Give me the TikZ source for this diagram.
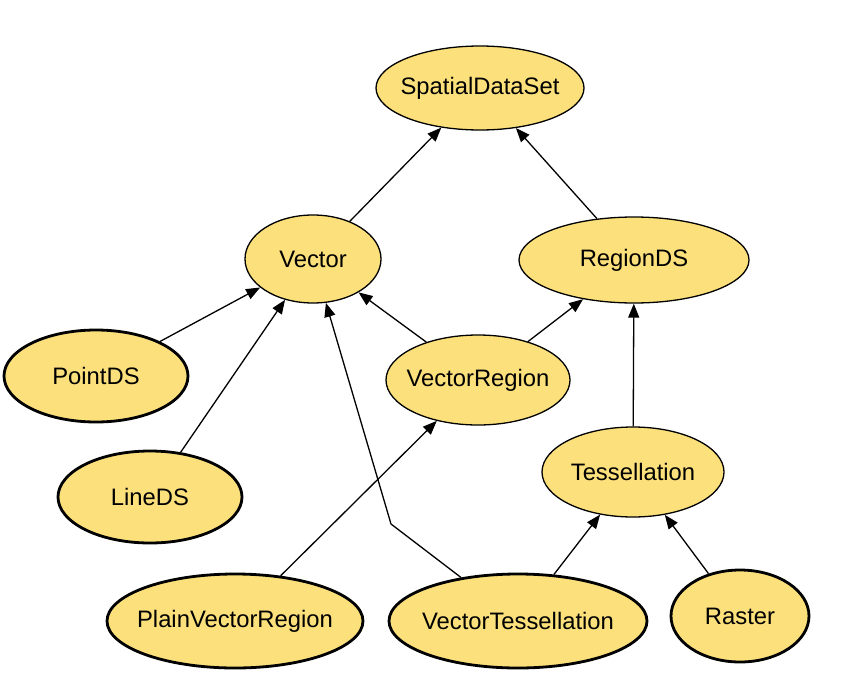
\documentclass[tikz,border=0pt]{standalone}
\usepackage{fontspec}
\setmainfont{Liberation Sans}
\usetikzlibrary{shapes.geometric,arrows.meta}
\definecolor{nodefill}{HTML}{FBE07C}
\newcommand{\lbl}[1]{\makebox[0pt][c]{#1}}
\tikzset{
  cls/.style={ellipse, draw=black, fill=nodefill, line width=1.3pt, inner sep=0pt, font=\fontsize{23.8}{27}\selectfont},
  leaf/.style={cls, line width=2.8pt},
  inh/.style={line width=1.3pt, -{Triangle[length=14pt,width=11pt]}}
}
\begin{document}
\begin{tikzpicture}[x=1pt,y=-1pt]
\useasboundingbox (0,0) rectangle (856,696);
\node[cls, minimum width=208pt, minimum height=84pt] (sds) at (480,88) {\lbl{SpatialDataSet}};
\node[cls, minimum width=136pt, minimum height=88pt] (vec) at (313,259) {\lbl{Vector}};
\node[cls, minimum width=230pt, minimum height=86pt] (reg) at (634,260) {\lbl{RegionDS}};
\node[leaf, minimum width=184pt, minimum height=92pt] (pt) at (96,376) {\lbl{PointDS}};
\node[cls, minimum width=184pt, minimum height=90pt] (vr) at (478,380) {\lbl{VectorRegion}};
\node[leaf, minimum width=184pt, minimum height=92pt] (ln) at (150,497) {\lbl{LineDS}};
\node[cls, minimum width=182pt, minimum height=90pt] (tes) at (633,472) {\lbl{Tessellation}};
\node[leaf, minimum width=256pt, minimum height=94pt] (pvr) at (235,621) {\lbl{PlainVectorRegion}};
\node[leaf, minimum width=258pt, minimum height=94pt] (vt) at (518,621) {\lbl{VectorTessellation}};
\node[leaf, minimum width=138pt, minimum height=92pt] (ras) at (740,616) {\lbl{Raster}};
\coordinate (bend) at (391,524);
\draw[inh] (vec) -- (sds);
\draw[inh] (reg) -- (sds);
\draw[inh] (pt) -- (vec);
\draw[inh] (ln) -- (vec);
\draw[inh] (vr) -- (vec);
\draw[inh] (vr) -- (reg);
\draw[inh] (pvr) -- (vr);
\draw[inh] (vt) -- (bend) -- (vec);
\draw[inh] (vt) -- (tes);
\draw[inh] (tes) -- (reg);
\draw[inh] (ras) -- (tes);
\end{tikzpicture}
\end{document}
